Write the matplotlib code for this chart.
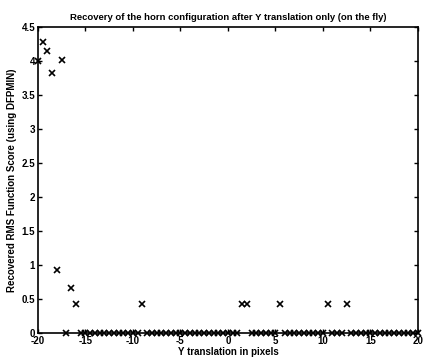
import numpy as np
import matplotlib
matplotlib.use('Agg')
import matplotlib.pyplot as plt

# Y translations tested (pixels), half-pixel steps from -20 to 20
y_shift = np.arange(-20, 20.5, 0.5)

# Recovered RMS score for each translation
rms_score = [
    4.00, 4.28, 4.15, 3.82, 0.93, 4.01, 0.00, 0.66, 0.43, 0.00,   # -20 .. -15.5
    0.00, 0.00, 0.00, 0.00, 0.00, 0.00, 0.00, 0.00, 0.00, 0.00,   # -15 .. -10.5
    0.00, 0.00, 0.43, 0.00, 0.00, 0.00, 0.00, 0.00, 0.00, 0.00,   # -10 .. -5.5
    0.00, 0.00, 0.00, 0.00, 0.00, 0.00, 0.00, 0.00, 0.00, 0.00,   # -5 .. -0.5
    0.00, 0.00, 0.00, 0.42, 0.42, 0.00, 0.00, 0.00, 0.00, 0.00,   # 0 .. 4.5
    0.00, 0.42, 0.00, 0.00, 0.00, 0.00, 0.00, 0.00, 0.00, 0.00,   # 5 .. 9.5
    0.00, 0.42, 0.00, 0.00, 0.00, 0.42, 0.00, 0.00, 0.00, 0.00,   # 10 .. 14.5
    0.00, 0.00, 0.00, 0.00, 0.00, 0.00, 0.00, 0.00, 0.00, 0.00,   # 15 .. 19.5
    0.00,                                                         # 20
]

x_ticks = [-20, -15, -10, -5, 0, 5, 10, 15, 20]
y_ticks = [0, 0.5, 1, 1.5, 2, 2.5, 3, 3.5, 4, 4.5]
y_tick_labels = ['0', '0.5', '1', '1.5', '2', '2.5', '3', '3.5', '4', '4.5']

plt.rcParams['font.family'] = ['Liberation Sans', 'DejaVu Sans']
plt.rcParams['font.weight'] = 'bold'
plt.rcParams['axes.unicode_minus'] = False

fig = plt.figure(figsize=(4.26, 3.62), dpi=100)
ax = fig.add_axes([0.089, 0.080, 0.892, 0.845])

ax.plot(y_shift, rms_score, 'x', color='black', markersize=5,
        markeredgewidth=1.2, clip_on=False)

ax.set_xlim(-20, 20)
ax.set_ylim(0, 4.5)
ax.set_xticks(x_ticks)
ax.set_xticklabels([str(t) for t in x_ticks])
ax.set_yticks(y_ticks)
ax.set_yticklabels(y_tick_labels)
ax.tick_params(direction='in', length=3, width=1, labelsize=7, pad=2,
               top=True, right=True)
for s in ax.spines.values():
    s.set_linewidth(1.2)

ax.set_title('Recovery of the horn configuration after Y translation only (on the fly)',
             fontsize=6.8, fontweight='bold', pad=5)
ax.set_xlabel('Y translation in pixels', fontsize=7, fontweight='bold', labelpad=1)
ax.set_ylabel('Recovered RMS Function Score (using DFPMIN)', fontsize=7,
              fontweight='bold', labelpad=3)

fig.savefig('out.png', dpi=100)
